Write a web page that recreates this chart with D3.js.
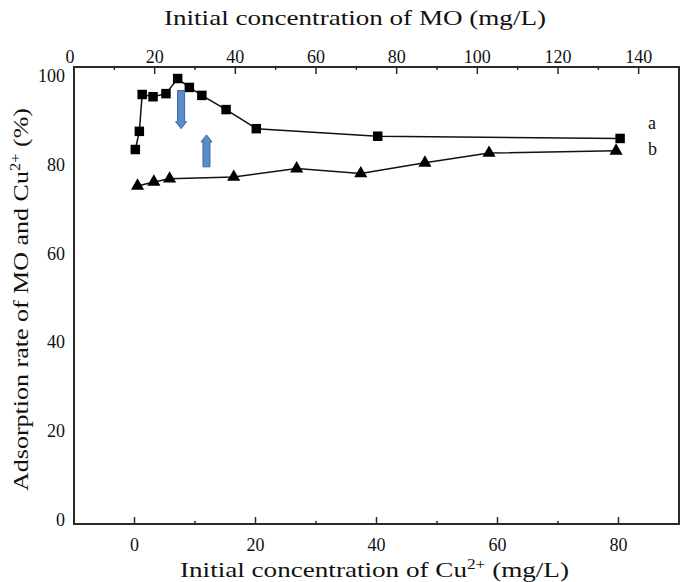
<!DOCTYPE html>
<html>
<head>
<meta charset="utf-8">
<script src="https://cdn.jsdelivr.net/npm/d3@7"></script>
<style>
  html, body { margin: 0; padding: 0; background: #fff; }
  svg { display: block; }
</style>
</head>
<body>
<svg id="chart" width="685" height="582" font-family="'Liberation Serif', Tinos, 'Times New Roman', Times, serif"></svg>
<script>
// ---- data ----
const moConc = [15.2, 16.2, 16.9, 19.6, 22.8, 25.7, 28.6, 31.7, 37.7, 45.2, 75.3, 135.4];
const moRate = [83.7, 87.8, 96.1, 95.6, 96.3, 99.7, 97.7, 95.9, 92.7, 88.4, 86.7, 86.2];
const cuConc = [0.5, 3.2, 5.8, 16.4, 26.8, 37.4, 48.0, 58.6, 79.6];
const cuRate = [75.5, 76.4, 77.1, 77.5, 79.4, 78.3, 80.7, 82.9, 83.4];
const topTicks = [0, 20, 40, 60, 80, 100, 120, 140];
const topMinor = [10, 30, 50, 70, 90, 110, 130];
const bottomTicks = [0, 20, 40, 60, 80];
const bottomMinor = [10, 30, 50, 70];
const yTicks = [0, 20, 40, 60, 80, 100];
// arrows (in Cu-axis x units and rate units): [x, yFrom, yTo]
const arrows = [[7.7, 97.0, 88.4], [11.9, 79.8, 87.0]];
const seriesLabels = [["a", 89.4], ["b", 83.6]];

// ---- layout ----
const svg = d3.select("#chart");
const L = 74, R = 679, T = 67, B = 524;
const ink = "#111";

const xTop = d3.scaleLinear().domain([0, 150]).range([L, R]);
const xBot = d3.scaleLinear().domain([-10, 90]).range([L, R]);
const y = d3.scaleLinear().domain([-0.7, 102.3]).range([B, T]);

// frame
svg.append("rect").attr("x", L).attr("y", T).attr("width", R - L).attr("height", B - T)
  .attr("fill", "none").attr("stroke", "#2a2a2a").attr("stroke-width", 2);

// top axis ticks (inward)
const gTop = svg.append("g");
gTop.selectAll("line.maj").data(topTicks).join("line")
  .attr("x1", d => xTop(d)).attr("x2", d => xTop(d))
  .attr("y1", T).attr("y2", T + 7).attr("stroke", "#2a2a2a").attr("stroke-width", 1.5);
gTop.selectAll("line.min").data(topMinor).join("line")
  .attr("x1", d => xTop(d)).attr("x2", d => xTop(d))
  .attr("y1", T).attr("y2", T + 3).attr("stroke", "#2a2a2a").attr("stroke-width", 1.5);
gTop.selectAll("text").data(topTicks).join("text")
  .attr("x", d => xTop(d) - (d === 0 ? 4 : 0)).attr("y", 63)
  .attr("text-anchor", "middle").attr("font-size", 18).attr("fill", ink).text(d => d);

// bottom axis ticks (inward)
const gBot = svg.append("g");
gBot.selectAll("line.maj").data(bottomTicks).join("line")
  .attr("x1", d => xBot(d)).attr("x2", d => xBot(d))
  .attr("y1", B).attr("y2", B - 7).attr("stroke", "#2a2a2a").attr("stroke-width", 1.5);
gBot.selectAll("line.min").data(bottomMinor).join("line")
  .attr("x1", d => xBot(d)).attr("x2", d => xBot(d))
  .attr("y1", B).attr("y2", B - 3).attr("stroke", "#2a2a2a").attr("stroke-width", 1.5);
gBot.selectAll("text").data(bottomTicks).join("text")
  .attr("x", d => xBot(d)).attr("y", 551)
  .attr("text-anchor", "middle").attr("font-size", 18).attr("fill", ink).text(d => d);

// y labels
svg.append("g").selectAll("text").data(yTicks).join("text")
  .attr("x", 65).attr("y", d => y(d) + 5)
  .attr("text-anchor", "end").attr("font-size", 18).attr("fill", ink).text(d => d);

// titles
svg.append("text").attr("x", 164).attr("y", 25)
  .attr("font-size", 22).attr("fill", ink)
  .attr("textLength", 382).attr("lengthAdjust", "spacingAndGlyphs")
  .text("Initial concentration of MO (mg/L)");

const bt = svg.append("text").attr("x", 180).attr("y", 577)
  .attr("font-size", 22).attr("fill", ink)
  .attr("textLength", 389).attr("lengthAdjust", "spacingAndGlyphs");
bt.append("tspan").text("Initial concentration of Cu");
bt.append("tspan").attr("font-size", 14).attr("dy", -8).text("2+");
bt.append("tspan").attr("dy", 8).text(" (mg/L)");

const yt = svg.append("text").attr("transform", "translate(28,491) rotate(-90)")
  .attr("x", 0).attr("y", 0)
  .attr("font-size", 22).attr("fill", ink)
  .attr("textLength", 383).attr("lengthAdjust", "spacingAndGlyphs");
yt.append("tspan").text("Adsorption rate of MO and Cu");
yt.append("tspan").attr("font-size", 14).attr("dy", -8).text("2+");
yt.append("tspan").attr("dy", 8).text(" (%)");

// series a (MO, top axis) — squares
const moData = moConc.map((c, i) => [c, moRate[i]]);
svg.append("path").datum(moData)
  .attr("d", d3.line().x(d => xTop(d[0])).y(d => y(d[1])))
  .attr("fill", "none").attr("stroke", ink).attr("stroke-width", 1.5);
svg.append("g").selectAll("path").data(moData).join("path")
  .attr("transform", d => `translate(${xTop(d[0])},${y(d[1])})`)
  .attr("d", d3.symbol(d3.symbolSquare, 90)())
  .attr("fill", "#000");

// series b (Cu, bottom axis) — triangles
const cuData = cuConc.map((c, i) => [c, cuRate[i]]);
svg.append("path").datum(cuData)
  .attr("d", d3.line().x(d => xBot(d[0])).y(d => y(d[1])))
  .attr("fill", "none").attr("stroke", ink).attr("stroke-width", 1.5);
svg.append("g").selectAll("path").data(cuData).join("path")
  .attr("transform", d => `translate(${xBot(d[0])},${y(d[1])})`)
  .attr("d", d3.symbol(d3.symbolTriangle, 75)())
  .attr("fill", "#000");

// series labels
svg.append("g").selectAll("text").data(seriesLabels).join("text")
  .attr("x", 648).attr("y", d => y(d[1]) + 5).attr("font-size", 18).attr("fill", ink).text(d => d[0]);

// arrows
function arrowPath(x, y0, y1) {
  const dir = y1 > y0 ? 1 : -1; // pixel direction
  const sw = 3.5, hw = 5.5, hl = 7;
  const yh = y1 - dir * hl;
  return `M${x - sw},${y0} L${x + sw},${y0} L${x + sw},${yh} L${x + hw},${yh} L${x},${y1} L${x - hw},${yh} L${x - sw},${yh} Z`;
}
svg.append("g").selectAll("path").data(arrows).join("path")
  .attr("d", d => arrowPath(xBot(d[0]), y(d[1]), y(d[2])))
  .attr("fill", "#5b8cc8").attr("stroke", "#3a6aa8").attr("stroke-width", 1);
</script>
</body>
</html>
